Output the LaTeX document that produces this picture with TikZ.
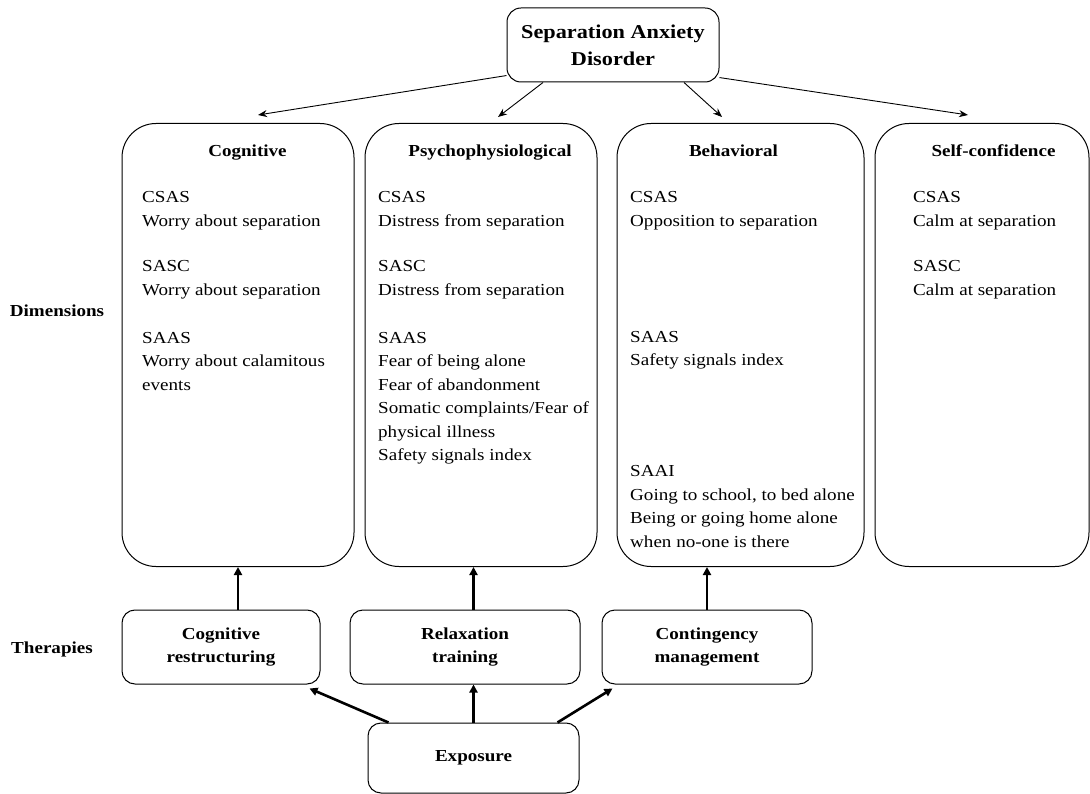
\documentclass[tikz,border=0pt]{standalone}
\usepackage{fontspec}
\setmainfont[FakeStretch=1.135]{Liberation Serif}
\usetikzlibrary{arrows.meta,calc}
\begin{document}
\begin{tikzpicture}[x=1pt,y=-1pt,
  dimbox/.style={draw, line width=1pt, rounded corners=34pt, inner sep=0, minimum height=443pt},
  thbox/.style={draw, line width=1pt, rounded corners=13pt, inner sep=0, minimum height=74pt, align=center, font=\bfseries\fontsize{16.8}{23}\selectfont},
  txt/.style={anchor=north west, inner sep=0, align=left, font=\fontsize{16.8}{23.5}\selectfont},
  ttl/.style={anchor=base, inner sep=0, font=\bfseries\fontsize{16.8}{20}\selectfont},
  side/.style={anchor=base, inner sep=0, font=\bfseries\fontsize{16.8}{20}\selectfont},
  thin arrow/.style={line width=0.9pt, -{Stealth[length=9pt,width=7pt]}},
  thick arrow/.style={line width=2.6pt, -{Triangle[length=8pt,width=8pt]}}
]
\useasboundingbox (0,0) rectangle (1090,794);

% top node
\node[draw, line width=1pt, rounded corners=14pt, minimum width=212pt, minimum height=74pt, inner sep=0, align=center,
      font=\bfseries\fontsize{19.6}{26.7}\selectfont] (sad) at (613,45) {Separation Anxiety\\Disorder};

% dimension boxes
\node[dimbox, minimum width=232pt] (cog) at (238,345) {};
\node[dimbox, minimum width=232pt] (psy) at (481,345) {};
\node[dimbox, minimum width=247pt] (beh) at (740.5,345) {};
\node[dimbox, minimum width=214pt] (slf) at (982,345) {};

% titles
\node[ttl] (cogt) at (247.5,156.5) {Cognitive};
\node[ttl] (psyt) at (490,156.5) {Psychophysiological};
\node[ttl] (beht) at (733.5,156.5) {Behavioral};
\node[ttl] (slft) at (993.5,156.5) {Self-confidence};

% cognitive texts
\node[txt] (c1) at (142,191.2) {CSAS\\Worry about separation};
\node[txt] (c2) at (142,260.4) {SASC\\Worry about separation};
\node[txt] (c3) at (142,331.8) {SAAS\\Worry about calamitous\\events};

% psychophysiological texts
\node[txt] (p1) at (378,191.2) {CSAS\\Distress from separation};
\node[txt] (p2) at (378,260.4) {SASC\\Distress from separation};
\node[txt] (p3) at (378,331.8) {SAAS\\Fear of being alone\\Fear of abandonment\\Somatic complaints/Fear of\\physical illness\\Safety signals index};

% behavioral texts
\node[txt] (b1) at (630,191.2) {CSAS\\Opposition to separation};
\node[txt] (b2) at (630,330.8) {SAAS\\Safety signals index};
\node[txt] (b3) at (630,465.4) {SAAI\\Going to school, to bed alone\\Being or going home alone\\when no-one is there};

% self-confidence texts
\node[txt] (s1) at (913,191.2) {CSAS\\Calm at separation};
\node[txt] (s2) at (913,260.4) {SASC\\Calm at separation};

% side labels
\node[side] (dims) at (57,316.7) {Dimensions};
\node[side] (ther) at (52,653.5) {Therapies};

% therapy boxes
\node[thbox, minimum width=198pt] (cr) at (221,647) {Cognitive\\restructuring};
\node[thbox, minimum width=230pt] (rt) at (465,647) {Relaxation\\training};
\node[thbox, minimum width=210pt] (cm) at (707,647) {Contingency\\management};

% exposure
\node[draw, line width=1pt, rounded corners=13pt, minimum width=211pt, minimum height=70pt, inner sep=0,
      font=\bfseries\fontsize{16.8}{20}\selectfont] (ex) at (473.5,758) {Exposure};

% top arrows
\draw[thin arrow] (sad.196) -- ([xshift=20pt,yshift=8pt]cog.north);
\draw[thin arrow] ([xshift=-70pt]sad.south) -- ([xshift=17pt,yshift=6pt]psy.north);
\draw[thin arrow] ([xshift=71pt]sad.south) -- ([xshift=-18.5pt,yshift=6pt]beh.north);
\draw[thin arrow] (sad.-17) -- ([xshift=-14pt,yshift=8pt]slf.north);

% therapy to dimension arrows
\draw[thick arrow] (cr.north -| cog.south) -- (cog.south);
\draw[thick arrow] (rt.north -| ex.north) -- (psy.south -| ex.north);
\draw[thick arrow] (cm.north) -- (cm.north |- beh.south);

% exposure arrows
\draw[thick arrow] ([xshift=-85pt]ex.north) -- ([xshift=-11pt,yshift=-4pt]cr.south east);
\draw[thick arrow] (ex.north) -- (rt.south -| ex.north);
\draw[thick arrow] ([xshift=84pt]ex.north) -- ([xshift=11pt,yshift=-4pt]cm.south west);
\end{tikzpicture}
\end{document}
